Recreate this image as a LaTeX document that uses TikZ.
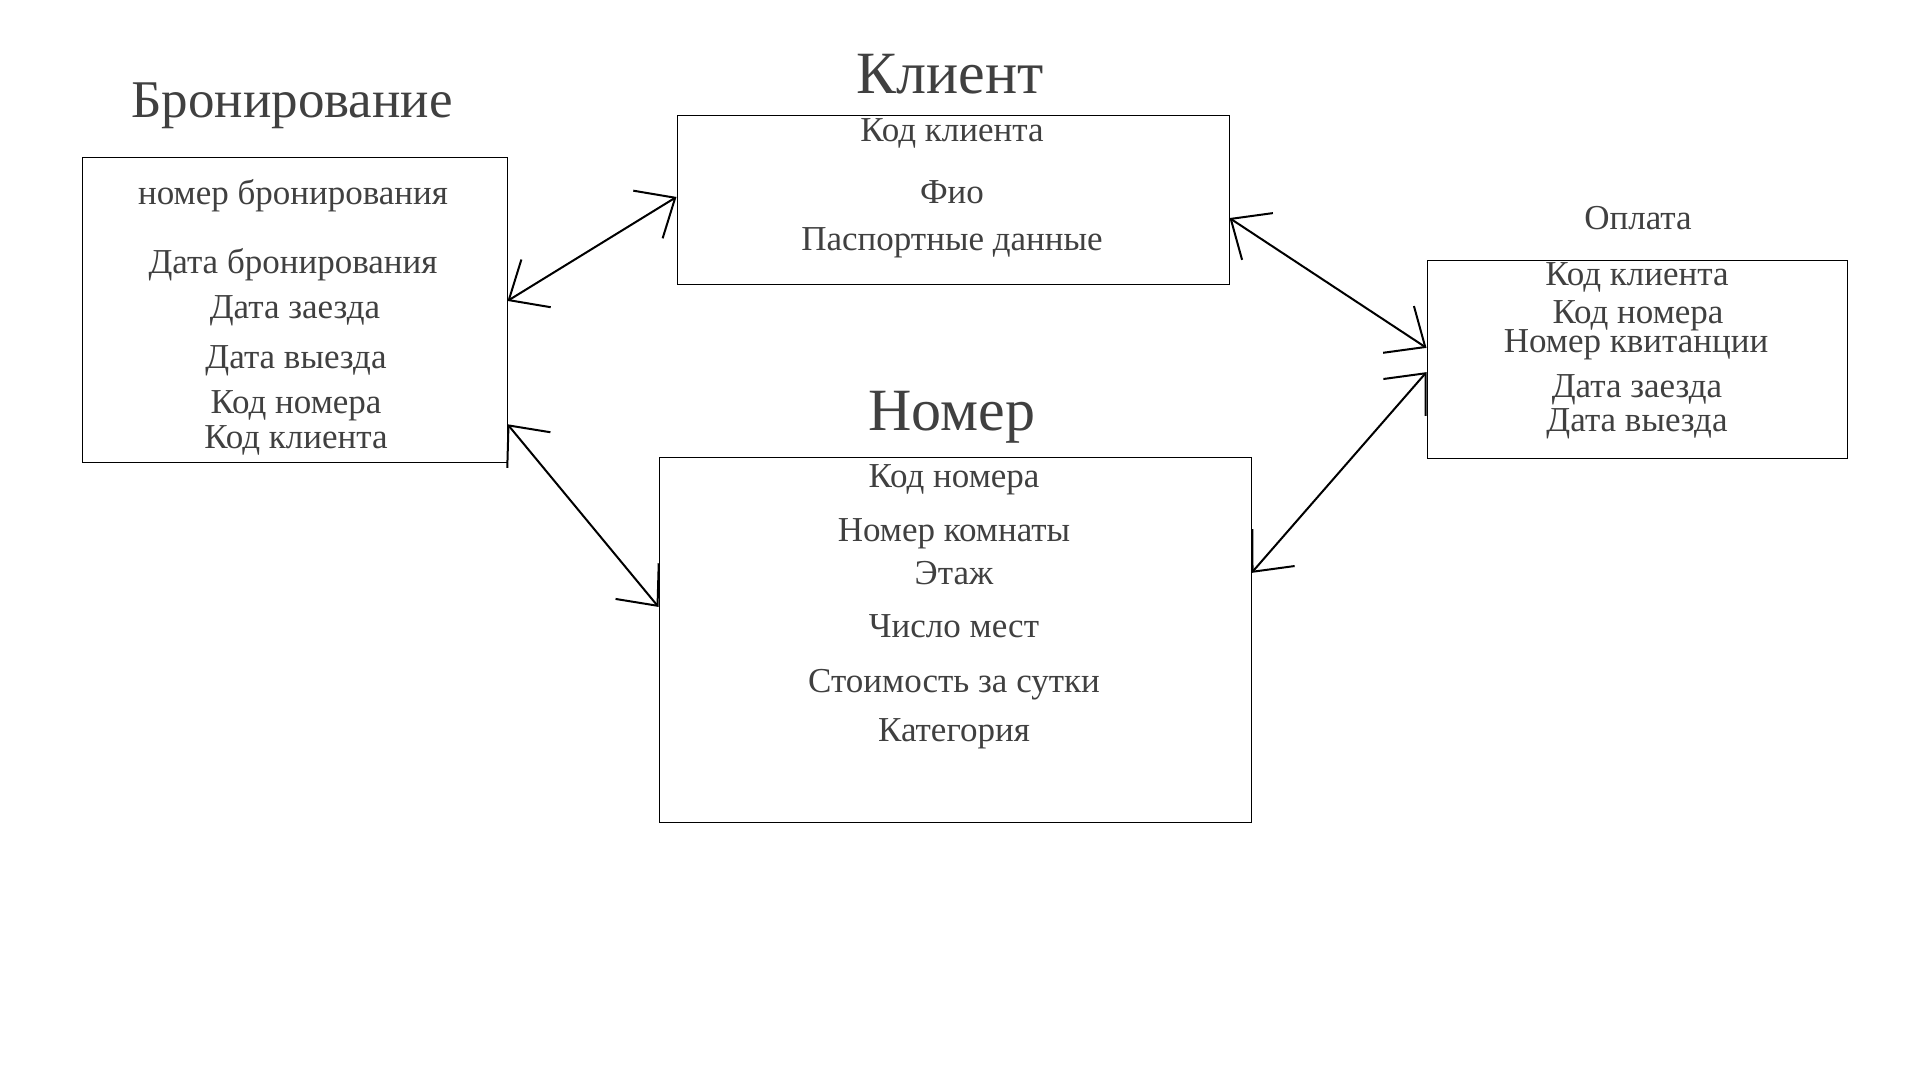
\documentclass[tikz,border=0pt]{standalone}
\usepackage{fontspec}
\setmainfont{Liberation Serif}
\usetikzlibrary{arrows.meta,calc}
\definecolor{txt}{HTML}{404040}
\begin{document}
\begin{tikzpicture}[x=1pt,y=-1pt,
  box/.style={draw=black, line width=1pt, inner sep=0pt},
  bigtitle/.style={text=txt, anchor=base, inner sep=0pt, font=\fontsize{60}{68}\selectfont},
  midtitle/.style={text=txt, anchor=base, inner sep=0pt, font=\fontsize{53}{60}\selectfont},
  smalltitle/.style={text=txt, anchor=base, inner sep=0pt, font=\fontsize{35}{40}\selectfont},
  fld/.style={text=txt, anchor=base, inner sep=0pt, font=\fontsize{35}{40}\selectfont},
  barb/.tip={Straight Barb[length=32pt,width=56pt]},
  link/.style={line width=2pt, barb-barb}]
\useasboundingbox (0,0) rectangle (1920,1080);
\fill[white] (0,0) rectangle (1920,1080);

% boxes
\node[box, minimum width=425pt, minimum height=305pt] (bron) at (294.5,309.5) {};
\node[box, minimum width=552pt, minimum height=169pt] (klient) at (953,199.5) {};
\node[box, minimum width=592pt, minimum height=365pt] (nomer) at (955,639.5) {};
\node[box, minimum width=420pt, minimum height=198pt] (oplata) at (1637,359) {};

% titles
\node[midtitle] (tbron) at (292,117) {Бронирование};
\node[bigtitle] (tklient) at (950,93) {Клиент};
\node[bigtitle] (tnomer) at (952,430) {Номер};
\node[smalltitle] (toplata) at (1638,229) {Оплата};

% Бронирование fields
\node[fld] (b1) at (293,204) {номер бронирования};
\node[fld] (b2) at (293,273) {Дата бронирования};
\node[fld] (b3) at (295,318) {Дата заезда};
\node[fld] (b4) at (296,368) {Дата выезда};
\node[fld] (b5) at (296,413) {Код номера};
\node[fld] (b6) at (296,448) {Код клиента};

% Клиент fields
\node[fld] (k1) at (952,141) {Код клиента};
\node[fld] (k2) at (952,203) {Фио};
\node[fld] (k3) at (952,250) {Паспортные данные};

% Номер fields
\node[fld] (n1) at (954,487) {Код номера};
\node[fld] (n2) at (954,541) {Номер комнаты};
\node[fld] (n3) at (954,584) {Этаж};
\node[fld] (n4) at (954,637) {Число мест};
\node[fld] (n5) at (954,692) {Стоимость за сутки};
\node[fld] (n6) at (954,741) {Категория};

% Оплата fields
\node[fld] (o1) at (1637,285) {Код клиента};
\node[fld] (o2) at (1638,323) {Код номера};
\node[fld] (o3) at (1636,352) {Номер квитанции};
\node[fld] (o4) at (1637,397) {Дата заезда};
\node[fld] (o5) at (1637,431) {Дата выезда};

% connectors
\draw[link] ($(bron.north east)!0.472!(bron.south east)$) -- ($(klient.north west)!0.485!(klient.south west)$);
\draw[link] ($(bron.north east)!0.875!(bron.south east)$) -- ($(nomer.north west)!0.411!(nomer.south west)$);
\draw[link] ($(klient.north east)!0.609!(klient.south east)$) -- ($(oplata.north west)!0.444!(oplata.south west)$);
\draw[link] ($(oplata.north west)!0.566!(oplata.south west)$) -- ($(nomer.north east)!0.318!(nomer.south east)$);
\end{tikzpicture}
\end{document}
